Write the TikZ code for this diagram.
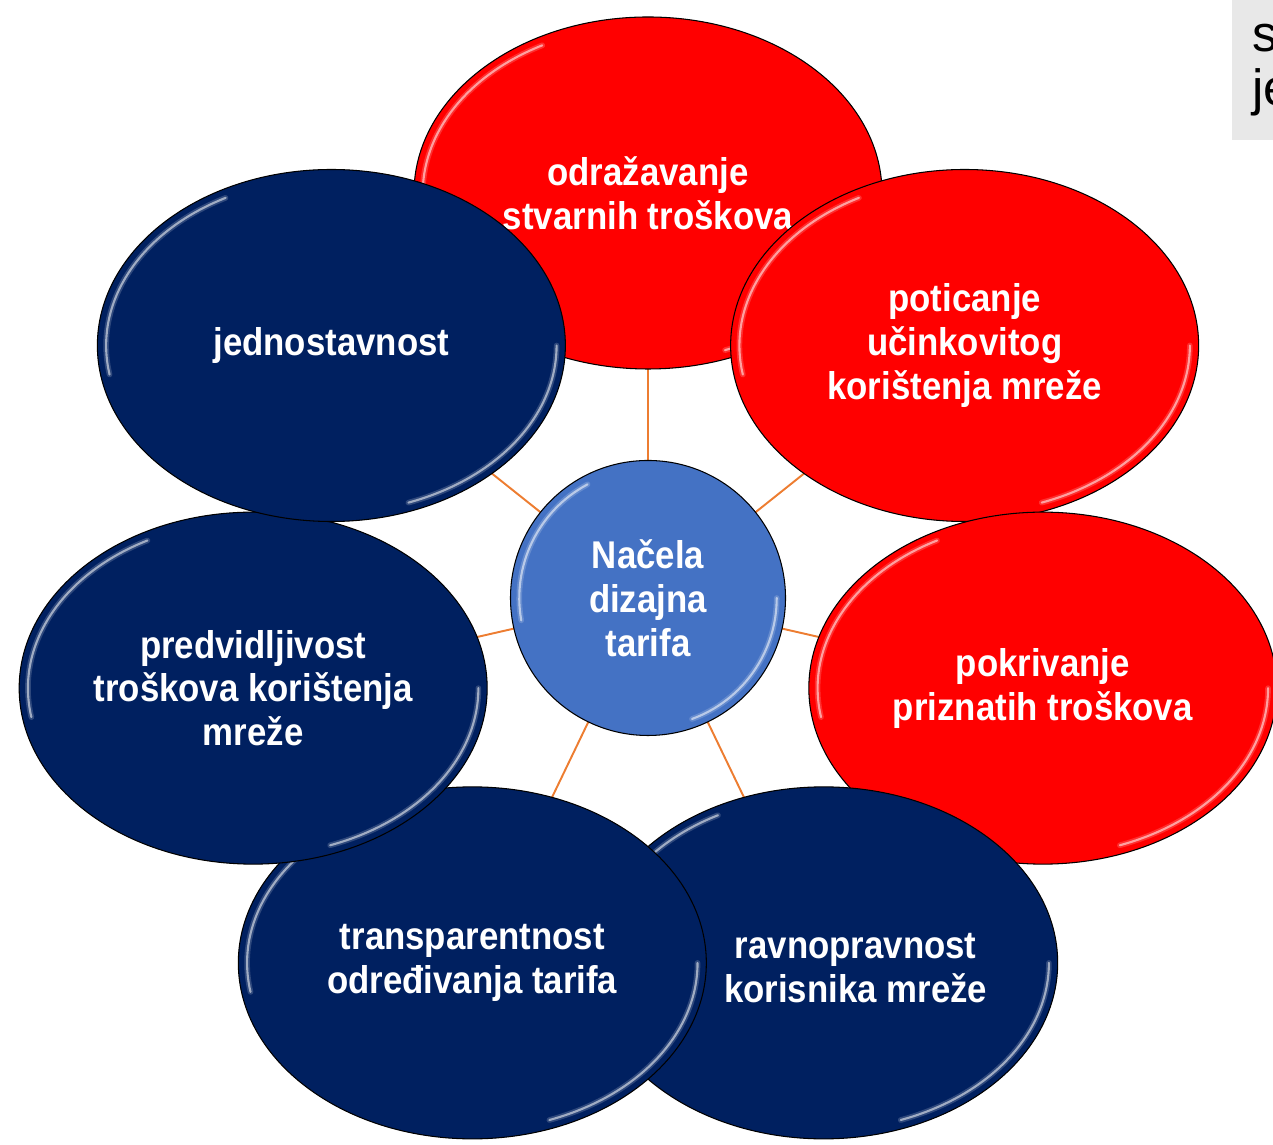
\documentclass[tikz,border=0pt]{standalone}
\usepackage{fontspec}
\setmainfont{Liberation Sans}[FakeStretch=0.9]
\newfontfamily\sidefont{Liberation Sans}
\usetikzlibrary{shapes.geometric, calc, backgrounds}

\definecolor{navy}{HTML}{002060}
\definecolor{tomred}{HTML}{FF0000}
\definecolor{hubblue}{HTML}{4472C4}
\definecolor{spokeorange}{HTML}{ED7D31}

\begin{document}
\begin{tikzpicture}[
  x=0.2mm, y=0.2mm,
  font=\fontsize{22}{25}\selectfont\bfseries,
  gloss/.style={path picture={
    \foreach \w/\o in {3.2pt/.18, 1.2pt/.55}
    \draw[white, opacity=\o, line width=\w, line cap=round]
      let \p1=($(path picture bounding box.north east)-(path picture bounding box.center)$),
          \n1={\x1-5pt}, \n2={\y1-5pt} in
      ($(path picture bounding box.center)+(118:\n1 and \n2)$)
        arc[start angle=118, end angle=190, x radius=\n1, y radius=\n2]
      ($(path picture bounding box.center)+(-70:\n1 and \n2)$)
        arc[start angle=-70, end angle=0, x radius=\n1, y radius=\n2];
  }},
  bubble/.style={
    ellipse, draw=black, line width=0.6pt,
    text=white, align=center, inner sep=0pt,
    minimum width=93.6mm, minimum height=70.4mm,
    gloss
  },
  redb/.style={bubble, fill=tomred},
  blueb/.style={bubble, fill=navy},
  hub/.style={circle, draw=black, line width=0.6pt, fill=hubblue,
    text=white, align=center, inner sep=0pt, minimum size=55mm, gloss},
  spoke/.style={draw=spokeorange, line width=1.1pt},
  offtext/.style={text=white, align=center, inner sep=0pt},
  sidebox/.style={rectangle, fill=black!9, text=black,
    font=\sidefont\fontsize{29}{31}\selectfont, align=left,
    text width=30mm, inner xsep=4mm, minimum height=28mm},
]
\useasboundingbox (0,0) rectangle (1273,1145);

% --- side panel (cut off at the page edge) ---
\node[sidebox, anchor=north west] (side) at (1232,1145) {s\\je};

% --- bubbles round the hub, clockwise from the top ---
\coordinate (ctr) at (648,547);
\node[redb] (odr) at ($(ctr)+(90:405)$) {odražavanje\\stvarnih troškova};
\node[redb] (pot) at ($(ctr)+(38.57:405)$) {poticanje\\učinkovitog\\korištenja mreže};
\node[redb] (pok) at ($(ctr)+(-12.86:405)$) {pokrivanje\\priznatih troškova};
\node[blueb, label={[offtext, xshift=6.4mm, yshift=-1mm]center:ravnopravnost\\korisnika mreže}]
  (rav) at ($(ctr)+(-64.29:405)$) {};
\node[blueb] (tra) at ($(ctr)+(-115.71:405)$) {transparentnost\\određivanja tarifa};
\node[blueb] (pre) at ($(ctr)+(-167.14:405)$) {predvidljivost\\troškova korištenja\\mreže};
\node[blueb] (jed) at ($(ctr)+(141.43:405)$) {jednostavnost};

% --- hub ---
\node[hub] (hub) at (ctr) {Načela\\dizajna\\tarifa};

% --- spokes (behind) ---
\begin{scope}[on background layer]
  \foreach \b in {odr,pot,pok,rav,tra,pre,jed}
    \draw[spoke] (hub.center) -- (\b.center);
\end{scope}

\end{tikzpicture}
\end{document}
